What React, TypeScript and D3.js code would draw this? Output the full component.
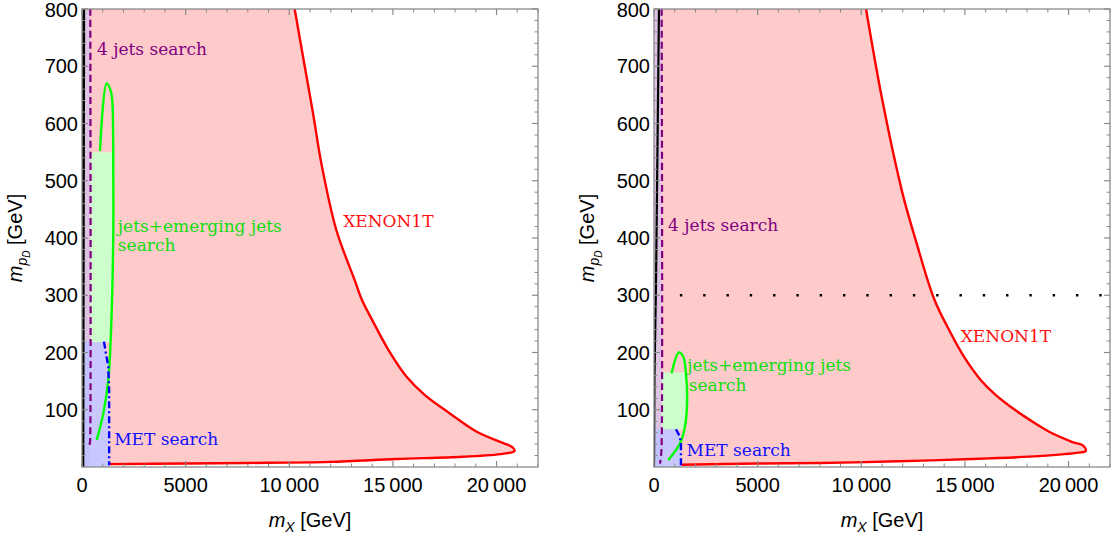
import React from "react";
import * as d3 from "d3";

type P = [number, number];

const X_MAX = 22000;
const Y_MAX = 800;
const X_MAJOR = [0, 5000, 10000, 15000, 20000];
const X_LABELS = ["0", "5000", "10\u2009000", "15\u2009000", "20\u2009000"];
const Y_MAJOR = [100, 200, 300, 400, 500, 600, 700, 800];
const Y_LABELS = ["100", "200", "300", "400", "500", "600", "700", "800"];

// ---- left panel data ----
const xenonLeft: P[] = [
  [10260, 800], [10750, 699], [11150, 617], [11550, 530], [12270, 414], [13160, 326],
  [13480, 294], [14040, 254], [14840, 201], [15650, 158], [16530, 126], [17730, 94],
  [19020, 62], [20300, 42], [20750, 35], [20870, 28], [20300, 23], [18370, 18],
  [15170, 14], [11950, 9], [8000, 7], [5000, 6], [1300, 5],
];
const greenLeft: P[] = [
  [870, 552], [1190, 670], [1380, 658], [1460, 640], [1510, 501], [1510, 414],
  [1430, 268], [1270, 152], [1030, 94], [710, 47],
];
const greenFillLeft: P[] = [
  [400, 218], [400, 550], [1505, 550], [1510, 501], [1510, 414], [1430, 268], [1370, 218],
];
const blueLeft: P[] = [[1060, 219], [1270, 175], [1310, 130], [1310, 3]];
const blueFillLeft: P[] = [[0, 0], [0, 218], [1060, 218], [1270, 175], [1310, 130], [1310, 0]];
const purpleLeft: P[] = [[400, 800], [400, 60], [380, 42], [300, 33]];
const purpleFillLeft: P[] = [[0, 0], [0, 800], [400, 800], [400, 0]];
const blackLeft: P[] = [[40, 0], [80, 800]];

// ---- right panel data ----
const xenonRight: P[] = [
  [10230, 800], [11020, 640], [11990, 478], [12630, 396], [13510, 294], [14300, 235],
  [15000, 190], [15760, 152], [16480, 126], [17440, 99], [18400, 76], [19040, 62],
  [20160, 44], [20720, 37], [20830, 28], [20480, 25], [18560, 19], [16150, 15],
  [13750, 12], [11800, 10], [8000, 7], [5000, 6], [1330, 4],
];
const greenRight: P[] = [
  [850, 164], [1200, 200], [1410, 193], [1540, 164], [1600, 117], [1490, 70],
  [1250, 41], [690, 12],
];
const greenFillRight: P[] = [
  [370, 66], [370, 165], [1545, 165], [1600, 117], [1490, 70], [1440, 66],
];
const blueRight: P[] = [[1060, 66], [1250, 53], [1300, 40], [1300, 3]];
const blueFillRight: P[] = [[0, 0], [0, 66], [1060, 66], [1250, 53], [1300, 40], [1300, 0]];
const purpleRight: P[] = [[370, 800], [370, 40], [340, 20], [290, 6]];
const purpleFillRight: P[] = [[0, 0], [0, 800], [370, 800], [370, 0]];
const blackRight: P[] = [[0, 0], [20, 150], [100, 330], [240, 800]];
const dottedRight: P[] = [[1200, 300], [21600, 300]];

type Label = { text: string; x: number; y: number; color: string };
const labelsLeft: Label[] = [
  { text: "4 jets search", x: 720, y: 720, color: "#800080" },
  { text: "jets+emerging jets", x: 1730, y: 410, color: "#10dd10" },
  { text: "search", x: 1730, y: 378, color: "#10dd10" },
  { text: "XENON1T", x: 12600, y: 420, color: "#ff1010" },
  { text: "MET search", x: 1550, y: 38, color: "#1010ff" },
];
const labelsRight: Label[] = [
  { text: "4 jets search", x: 680, y: 413, color: "#800080" },
  { text: "jets+emerging jets", x: 1600, y: 167, color: "#10dd10" },
  { text: "search", x: 1680, y: 133, color: "#10dd10" },
  { text: "XENON1T", x: 14800, y: 219, color: "#ff1010" },
  { text: "MET search", x: 1570, y: 20, color: "#1010ff" },
];

const Y_BOTTOM = 467;
const Y_TOP = 9;

type PanelProps = {
  id: string;
  x0: number;
  x1: number;
  xenon: P[];
  green: P[];
  greenFill: P[];
  blue: P[];
  blueFill: P[];
  purple: P[];
  purpleFill: P[];
  black: P[];
  blackWidth: number;
  labels: Label[];
  dotted?: P[];
};

function Panel(props: PanelProps) {
  const { id, x0, x1 } = props;
  const x = d3.scaleLinear().domain([0, X_MAX]).range([x0, x1]);
  const y = d3.scaleLinear().domain([0, Y_MAX]).range([Y_BOTTOM, Y_TOP]);
  const lin = d3.line<P>().x((d) => x(d[0])).y((d) => y(d[1]));
  const smooth = d3.line<P>().x((d) => x(d[0])).y((d) => y(d[1])).curve(d3.curveCatmullRom.alpha(0.5));
  const poly = (pts: P[]) => lin(pts) + "Z";

  const pinkPath =
    smooth(props.xenon) + `L${x(props.xenon[props.xenon.length - 1][0])},${y(0)}L${x(0)},${y(0)}L${x(0)},${y(Y_MAX)}Z`;

  const xMinor = d3.range(0, X_MAX + 1, 1000).filter((v) => v % 5000 !== 0);
  const yMinor = d3.range(20, Y_MAX, 20).filter((v) => v % 100 !== 0);
  const tickColor = "#8a8a8a";
  const plotW = x1 - x0;
  const cx = (x0 + x1) / 2;
  const cy = (Y_TOP + Y_BOTTOM) / 2;

  return (
    <g>
      <defs>
        <clipPath id={id}>
          <rect x={x0} y={Y_TOP} width={plotW} height={Y_BOTTOM - Y_TOP} />
        </clipPath>
      </defs>
      <g clipPath={`url(#${id})`}>
        <path d={pinkPath} fill="#ffcaca" />
        <path d={poly(props.greenFill)} fill="#ccffcc" />
        <path d={poly(props.blueFill)} fill="#c8c8ff" />
        <path d={poly(props.purpleFill)} fill="rgb(187,190,250)" fillOpacity={0.5} />
        <path d={smooth(props.xenon) || ""} fill="none" stroke="#ff0000" strokeWidth={2.4} strokeLinejoin="round" />
        <path d={lin(props.black) || ""} fill="none" stroke="#000" strokeWidth={props.blackWidth} />
        <path d={smooth(props.purple) || ""} fill="none" stroke="#800080" strokeWidth={2.2} strokeDasharray="7,4" />
        <path d={smooth(props.green) || ""} fill="none" stroke="#00ff00" strokeWidth={2.4} strokeLinejoin="round" />
        <path d={lin(props.blue) || ""} fill="none" stroke="#0000ff" strokeWidth={2.4} strokeDasharray="7,3,2,3" />
        {props.dotted && (
          <path d={lin(props.dotted) || ""} fill="none" stroke="#000" strokeWidth={2.4} strokeDasharray="2.4,20.9" strokeDashoffset={-1} />
        )}
      </g>
      {/* frame */}
      <rect x={x0} y={Y_TOP} width={plotW} height={Y_BOTTOM - Y_TOP} fill="none" stroke={tickColor} strokeWidth={1.3} />
      {/* x ticks */}
      {X_MAJOR.map((v) => (
        <g key={"xM" + v}>
          <line x1={x(v)} x2={x(v)} y1={Y_BOTTOM} y2={Y_BOTTOM - 6} stroke={tickColor} strokeWidth={1.2} />
          <line x1={x(v)} x2={x(v)} y1={Y_TOP} y2={Y_TOP + 6} stroke={tickColor} strokeWidth={1.2} />
        </g>
      ))}
      {xMinor.map((v) => (
        <g key={"xm" + v}>
          <line x1={x(v)} x2={x(v)} y1={Y_BOTTOM} y2={Y_BOTTOM - 3.5} stroke={tickColor} strokeWidth={1} />
          <line x1={x(v)} x2={x(v)} y1={Y_TOP} y2={Y_TOP + 3.5} stroke={tickColor} strokeWidth={1} />
        </g>
      ))}
      {Y_MAJOR.map((v) => (
        <g key={"yM" + v}>
          <line x1={x0} x2={x0 + 6} y1={y(v)} y2={y(v)} stroke={tickColor} strokeWidth={1.2} />
          <line x1={x1} x2={x1 - 6} y1={y(v)} y2={y(v)} stroke={tickColor} strokeWidth={1.2} />
        </g>
      ))}
      {yMinor.map((v) => (
        <g key={"ym" + v}>
          <line x1={x0} x2={x0 + 3.5} y1={y(v)} y2={y(v)} stroke={tickColor} strokeWidth={1} />
          <line x1={x1} x2={x1 - 3.5} y1={y(v)} y2={y(v)} stroke={tickColor} strokeWidth={1} />
        </g>
      ))}
      {/* tick labels */}
      <g fontFamily="'Liberation Sans', Arial, sans-serif" fontSize={20} fill="#000">
        {X_MAJOR.map((v, i) => (
          <text key={"xl" + v} x={x(v)} y={Y_BOTTOM + 25} textAnchor="middle">
            {X_LABELS[i]}
          </text>
        ))}
        {Y_MAJOR.map((v, i) => (
          <text key={"yl" + v} x={x0 - 4} y={Math.max(y(v) + 7, 17)} textAnchor="end">
            {Y_LABELS[i]}
          </text>
        ))}
        <text x={cx} y={Y_BOTTOM + 60} textAnchor="middle">
          <tspan fontStyle="italic">m</tspan>
          <tspan fontStyle="italic" fontSize={14} dy={5}>X</tspan>
          <tspan dy={-5}> [GeV]</tspan>
        </text>
        <text transform={`translate(${x0 - 60},${cy}) rotate(-90)`} textAnchor="middle">
          <tspan fontStyle="italic">m</tspan>
          <tspan fontStyle="italic" fontSize={14} dy={5}>p</tspan>
          <tspan fontStyle="italic" fontSize={10} dy={3}>D</tspan>
          <tspan dy={-8}> [GeV]</tspan>
        </text>
      </g>
      {/* annotations */}
      <g fontFamily="'DejaVu Serif', serif" fontSize={17}>
        {props.labels.map((l, i) => (
          <text key={"lab" + i} x={x(l.x)} y={y(l.y)} fill={l.color}>
            {l.text}
          </text>
        ))}
      </g>
    </g>
  );
}

export default function App() {
  return (
    <svg width={1118} height={539} style={{ position: "absolute", left: 0, top: 0, background: "#fff" }}>
      <rect x={0} y={0} width={1118} height={539} fill="#fff" />
      <Panel
        id="clipL"
        x0={82}
        x1={538}
        xenon={xenonLeft}
        green={greenLeft}
        greenFill={greenFillLeft}
        blue={blueLeft}
        blueFill={blueFillLeft}
        purple={purpleLeft}
        purpleFill={purpleFillLeft}
        black={blackLeft}
        blackWidth={3}
        labels={labelsLeft}
      />
      <Panel
        id="clipR"
        x0={654}
        x1={1110}
        xenon={xenonRight}
        green={greenRight}
        greenFill={greenFillRight}
        blue={blueRight}
        blueFill={blueFillRight}
        purple={purpleRight}
        purpleFill={purpleFillRight}
        black={blackRight}
        blackWidth={2.2}
        labels={labelsRight}
        dotted={dottedRight}
      />
    </svg>
  );
}
